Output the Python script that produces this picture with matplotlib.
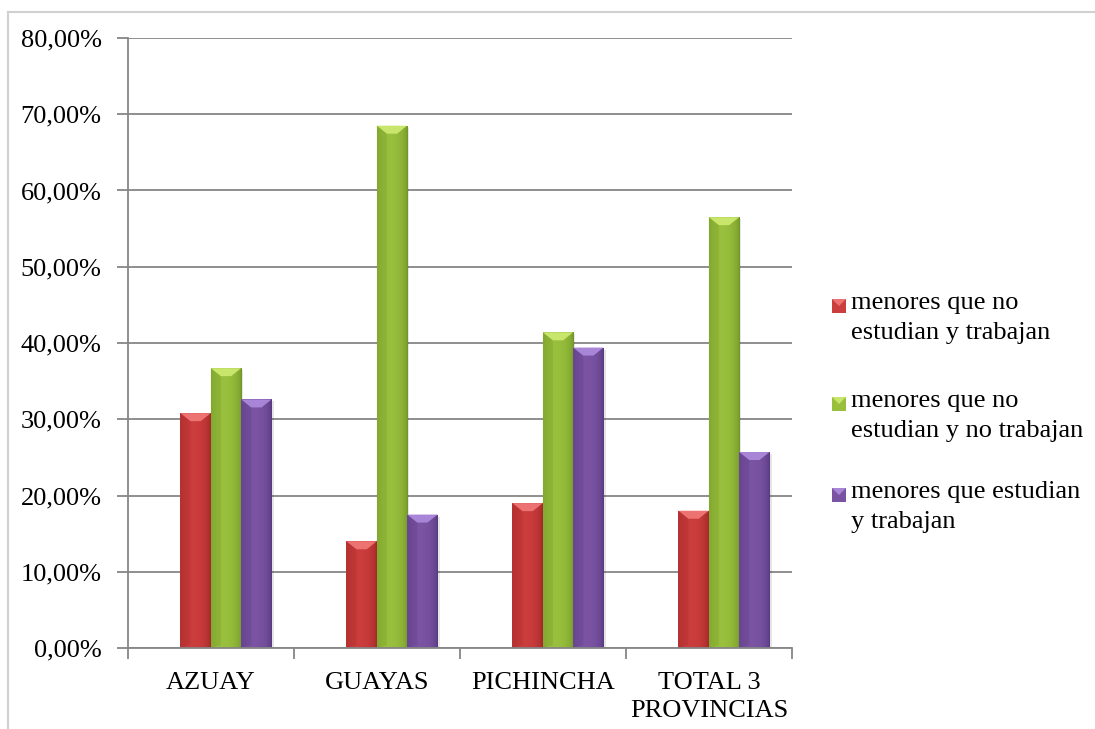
import numpy as np
import matplotlib
matplotlib.use("Agg")
import matplotlib.pyplot as plt
from matplotlib.patches import Polygon, Rectangle
from matplotlib.lines import Line2D

plt.rcParams['font.family'] = ['Liberation Serif', 'DejaVu Serif']

categories = ["AZUAY", "GUAYAS", "PICHINCHA", "TOTAL 3\nPROVINCIAS"]
series_names = [
    "menores que no\nestudian y trabajan",
    "menores que no\nestudian y no trabajan",
    "menores que estudian\ny trabajan",
]
no_estudian_trabajan = [30.8, 14.0, 19.0, 18.0]
no_estudian_no_trabajan = [36.7, 68.5, 41.4, 56.5]
estudian_trabajan = [32.6, 17.5, 39.4, 25.7]
series = [no_estudian_trabajan, no_estudian_no_trabajan, estudian_trabajan]

# base, dark edge and light bevel colours for each series
base_cols = [(0.80, 0.24, 0.24), (0.60, 0.75, 0.24), (0.48, 0.33, 0.64)]
dark_cols = [(0.62, 0.15, 0.15), (0.44, 0.58, 0.15), (0.34, 0.22, 0.50)]
light_cols = [(0.93, 0.45, 0.45), (0.78, 0.90, 0.42), (0.66, 0.52, 0.84)]

W, H, DPI = 1095, 729, 100
fig = plt.figure(figsize=(W / DPI, H / DPI), dpi=DPI)
ax = fig.add_axes([128 / W, 1 - 648 / H, (792 - 128) / W, (648 - 38) / H])

grey = "#868686"
fs = 19

x = np.arange(len(categories))
bw = 0.183
shift = 0.09
offsets = [shift - bw, shift, shift + bw]

ax.set_xlim(-0.5, len(categories) - 0.5)
ax.set_ylim(0, 80)

# pixel to data scale factors
px_y = 80 / (648 - 38)
px_x = len(categories) / (792 - 128)


def gradient_image(base, dark):
    t = np.linspace(0, 1, 64)
    # darker at both edges, brightest slightly left of centre
    prof = np.clip(1 - ((t - 0.42) / 0.58) ** 2, 0, 1) ** 0.6
    base = np.array(base)
    dark = np.array(dark)
    row = dark[None, :] + (base - dark)[None, :] * prof[:, None]
    return row[None, :, :]


for i, vals in enumerate(series):
    img = gradient_image(base_cols[i], dark_cols[i])
    bars = ax.bar(x + offsets[i], vals, bw, color=base_cols[i], edgecolor="none", zorder=3)
    for b in bars:
        x0, w, h = b.get_x(), b.get_width(), b.get_height()
        # soft shadow
        ax.add_patch(Rectangle((x0 + 2 * px_x, 0), w, h - 2 * px_y, color="black",
                               alpha=0.10, zorder=2.5, lw=0))
        im = ax.imshow(img, extent=(x0, x0 + w, 0, h), aspect="auto", zorder=3.1,
                       interpolation="bilinear")
        im.set_clip_path(b)
        d = 8 * px_y
        inset = 0.33 * w
        ax.add_patch(Polygon([(x0, h), (x0 + w, h), (x0 + w - inset, h - d), (x0 + inset, h - d)],
                             closed=True, color=light_cols[i], lw=0, zorder=3.2))
        ax.add_patch(Polygon([(x0, h), (x0 + inset, h - d), (x0 + inset, 0.4), (x0, 0)],
                             closed=True, color=dark_cols[i], alpha=0.25, lw=0, zorder=3.2))

ax.set_xlim(-0.5, len(categories) - 0.5)
ax.set_ylim(0, 80)

ax.set_yticks(np.arange(0, 81, 10))
ax.set_yticklabels([f"{v:.2f}%".replace(".", ",") for v in np.arange(0, 81, 10)])
ax.yaxis.grid(True, color=grey, lw=1.3, zorder=0)
ax.set_axisbelow(True)

ax.set_xticks(x)
ax.set_xticklabels(categories)
ax.set_xticks(np.arange(-0.5, len(categories), 1.0), minor=True)
ax.tick_params(axis="x", which="major", length=0, pad=17, labelsize=fs)
ax.tick_params(axis="x", which="minor", length=8, width=1.3, color=grey, direction="out")
ax.tick_params(axis="y", length=8, width=1.3, color=grey, direction="out", pad=11, labelsize=fs)
for lab in ax.get_xticklabels():
    lab.set_linespacing(1.4)

for s in ("top", "right"):
    ax.spines[s].set_visible(False)
for s in ("left", "bottom"):
    ax.spines[s].set_color(grey)
    ax.spines[s].set_linewidth(1.3)
    ax.spines[s].set_zorder(4)

# legend, drawn in figure pixel coordinates
entry_centres = [306, 404, 495]
for i, name in enumerate(series_names):
    yc = entry_centres[i]
    mx, ms = 832, 14
    fig.patches.append(Rectangle((mx / W, 1 - (yc + ms / 2) / H), ms / W, ms / H,
                                 transform=fig.transFigure, color=base_cols[i], lw=0))
    fig.patches.append(Polygon([(mx / W, 1 - (yc - ms / 2) / H), ((mx + ms) / W, 1 - (yc - ms / 2) / H),
                                ((mx + ms / 2) / W, 1 - yc / H)],
                               closed=True, transform=fig.transFigure, color=light_cols[i], lw=0))
    fig.text(851 / W, 1 - (yc - 14) / H, name, fontsize=fs, va="top", ha="left",
             linespacing=1.48)

# outer chart frame
fig.add_artist(Line2D([8 / W, 8 / W], [0, 1 - 12 / H], transform=fig.transFigure,
                      color="#d0d0d0", lw=1.5))
fig.add_artist(Line2D([8 / W, 1], [1 - 12 / H, 1 - 12 / H], transform=fig.transFigure,
                      color="#d0d0d0", lw=1.5))

fig.savefig("out.png", dpi=DPI)
